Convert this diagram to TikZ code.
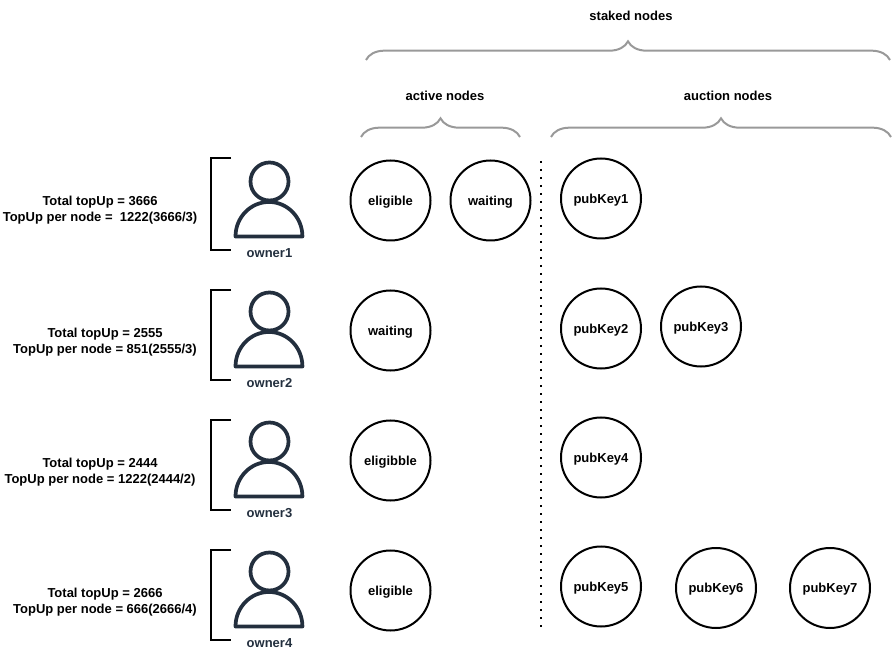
\documentclass[tikz,border=0pt]{standalone}
\usepackage{fontspec}
\setmainfont{Liberation Sans}
\usepackage{tikz}
\usetikzlibrary{positioning,calc,decorations.pathreplacing}

\definecolor{ownercolor}{HTML}{232F3E}
\definecolor{bracecolor}{HTML}{999999}

\newcommand{\ownericon}[3]{
    \node[head] (#1head) at (269.5,#2) {};
    \node[ownerlabel] (#1) at (269.5,#2+72) {#3};
    \draw[body] (235.5,#2+55) arc[start angle=180, end angle=0, x radius=25.1pt, y radius=25.9pt] -- cycle;
}

\begin{document}
\begin{tikzpicture}[
    x=0.75pt, y=-0.75pt,
    every node/.style={font=\fontsize{9.75}{12}\selectfont\bfseries},
    key/.style={circle, draw=black, line width=1.5pt, minimum size=60pt, inner sep=0pt, align=center, text depth=0pt, text height=7pt},
    info/.style={align=center},
    head/.style={circle, draw=ownercolor, line width=2.8pt, minimum size=28.5pt, inner sep=0pt},
    body/.style={draw=ownercolor, line width=2.8pt, line join=round},
    ownerlabel/.style={text=ownercolor},
    bracket/.style={draw=black, line width=1.5pt},
    curly/.style={draw=bracecolor, line width=1.5pt, decorate, decoration={brace, amplitude=14pt}}
]
    \useasboundingbox (0,0) rectangle (893,652);

    % headings
    \node (stakedlabel) at (631,15.5) {staked nodes};
    \node (activelabel) at (445,95.5) {active nodes};
    \node (auctionlabel) at (728,95.5) {auction nodes};

    \draw[curly] (366,60) -- (890,60);
    \draw[curly] (361,137) -- (520,137);
    \draw[curly] (551,137) -- (891,137);

    % owners
    \ownericon{owner1}{181.5}{owner1}
    \ownericon{owner2}{311.5}{owner2}
    \ownericon{owner3}{441.5}{owner3}
    \ownericon{owner4}{571.5}{owner4}

    \draw[bracket] (231,158) -| (211,250) -- (231,250);
    \draw[bracket] (231,290) -| (211,380) -- (231,380);
    \draw[bracket] (231,420) -| (211,510) -- (231,510);
    \draw[bracket] (231,550) -| (211,640) -- (231,640);

    \node[info] (info1) at (100,210.2) {Total topUp = 3666\\TopUp per node =\ \ 1222(3666/3)};
    \node[info] (info2) at (105,342.2) {Total topUp = 2555\\TopUp per node = 851(2555/3)};
    \node[info] (info3) at (100,472.2) {Total topUp = 2444\\TopUp per node = 1222(2444/2)};
    \node[info] (info4) at (105,602.2) {Total topUp = 2666\\TopUp per node = 666(2666/4)};

    % active nodes
    \node[key] (eligible1) at (390.5,200.5) {eligible};
    \node[key] (waiting1) at (490.5,200.5) {waiting};
    \node[key] (waiting2) at (390.5,330.5) {waiting};
    \node[key] (eligible3) at (390.5,460.5) {eligibble};
    \node[key] (eligible4) at (390.5,590.5) {eligible};

    % auction nodes
    \node[key] (pubkey1) at (601,198.5) {pubKey1};
    \node[key] (pubkey2) at (601,328.5) {pubKey2};
    \node[key] (pubkey3) at (701,326.5) {pubKey3};
    \node[key] (pubkey4) at (601,457.5) {pubKey4};
    \node[key] (pubkey5) at (601,586.5) {pubKey5};
    \node[key] (pubkey6) at (716,588) {pubKey6};
    \node[key] (pubkey7) at (830,588) {pubKey7};

    \coordinate (septop) at (541,161);
    \coordinate (sepbottom) at (541,629);
    \draw[line width=1.5pt, dash pattern=on 1.5pt off 4.5pt] (septop) -- (sepbottom);
\end{tikzpicture}
\end{document}
